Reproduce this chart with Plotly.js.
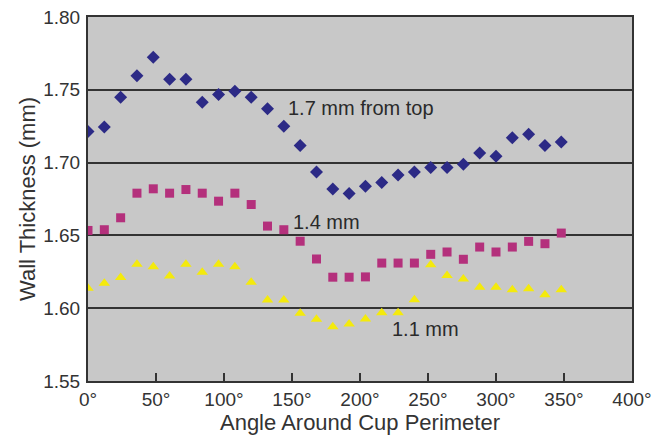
<!DOCTYPE html>
<html>
<head>
<meta charset="utf-8">
<script src="https://cdn.plot.ly/plotly-3.0.1.min.js"></script>
<style>html,body{margin:0;padding:0;background:#fff;}#chart{width:662px;height:435px;}</style>
</head>
<body>
<div id="chart"></div>
<script>
const angles = [0,12,24,36,48,60,72,84,96,108,120,132,144,156,168,180,192,204,216,228,240,252,264,276,288,300,312,324,336,348];
const thick17 = [1.7214,1.7244,1.7449,1.7596,1.7723,1.7573,1.7573,1.7415,1.7468,1.7490,1.7449,1.7370,1.7249,1.7118,1.6936,1.6819,1.6788,1.6838,1.6863,1.6915,1.6936,1.6966,1.6966,1.6988,1.7066,1.7043,1.7171,1.7194,1.7118,1.7141];
const thick14 = [1.6534,1.6539,1.6621,1.6790,1.6820,1.6790,1.6815,1.6790,1.6735,1.6790,1.6712,1.6564,1.6539,1.6460,1.6338,1.6213,1.6213,1.6215,1.6310,1.6310,1.6310,1.6370,1.6386,1.6336,1.6420,1.6386,1.6420,1.6459,1.6443,1.6516];
const thick11 = [1.6137,1.6171,1.6210,1.6301,1.6285,1.6221,1.6301,1.6247,1.6301,1.6285,1.6178,1.6057,1.6057,1.5966,1.5924,1.5872,1.5892,1.5925,1.5968,1.5968,1.6058,1.6299,1.6224,1.6201,1.6144,1.6144,1.6126,1.6133,1.6092,1.6126];
const seriesLabels = ["1.7 mm from top","1.4 mm","1.1 mm"];
const labelX = [200.5,175.5,247.8];
const labelY = [1.7372,1.6591,1.5856];
const xTicks = [0,50,100,150,200,250,300,350,400];
const yTicks = [1.55,1.60,1.65,1.70,1.75,1.80];

const FONT = "Liberation Sans, Arial, sans-serif";
const traces = [
  {x: angles, y: thick17, mode: "markers", type: "scatter",
   marker: {symbol: "diamond", size: 10, color: "#2c2a86"}},
  {x: angles, y: thick14, mode: "markers", type: "scatter",
   marker: {symbol: "square", size: 9, color: "#b4307c"}},
  {x: angles, y: thick11, mode: "markers", type: "scatter",
   marker: {symbol: "triangle-up", size: 10, color: "#f4ea0c"}}
];
const annotations = seriesLabels.map((t, i) => ({
  x: labelX[i], y: labelY[i], xref: "x", yref: "y", text: t, showarrow: false,
  font: {family: FONT, size: 20, color: "#2a2a2a"}
}));
const layout = {
  width: 662, height: 435,
  margin: {l: 88, r: 30, t: 17, b: 54, pad: 0},
  paper_bgcolor: "#ffffff",
  plot_bgcolor: "#c8c8c8",
  showlegend: false,
  font: {family: FONT, color: "#333333"},
  xaxis: {
    range: [0, 400], tickvals: xTicks, ticktext: xTicks.map(v => v + "°"),
    showgrid: false, zeroline: false, automargin: false,
    showline: true, mirror: true, linecolor: "#333333", linewidth: 2,
    ticks: "inside", ticklen: 8, tickwidth: 2, tickcolor: "#333333",
    tickfont: {family: FONT, size: 19, color: "#333333"},
    title: {text: "Angle Around Cup Perimeter", font: {family: FONT, size: 22, color: "#333333"}, standoff: 0}
  },
  yaxis: {
    range: [1.55, 1.80], tickvals: yTicks, ticktext: yTicks.map(v => v.toFixed(2)),
    showgrid: true, gridcolor: "#333333", gridwidth: 2, zeroline: false, automargin: false,
    showline: true, mirror: true, linecolor: "#333333", linewidth: 2,
    ticks: "", ticklabelstandoff: 2,
    tickfont: {family: FONT, size: 19, color: "#333333"},
    title: {text: "Wall Thickness (mm)", font: {family: FONT, size: 22, color: "#333333"}, standoff: 2}
  },
  annotations: annotations
};
Plotly.newPlot("chart", traces, layout, {displayModeBar: false, staticPlot: true});
</script>
</body>
</html>
